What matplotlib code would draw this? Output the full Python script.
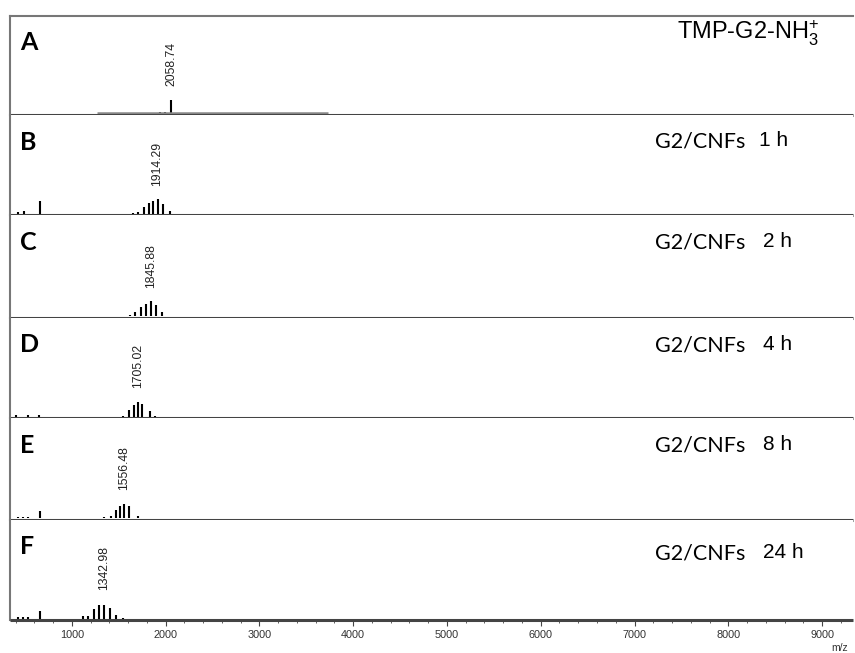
import numpy as np
import matplotlib
matplotlib.use('Agg')
from matplotlib import pyplot as plt
from matplotlib.ticker import MultipleLocator
import matplotlib.transforms as mtransforms

plt.rcParams['font.family'] = 'Liberation Sans'
plt.rcParams['mathtext.default'] = 'regular'

# panel letters, annotations and labelled peak of each spectrum
letters = ['A', 'B', 'C', 'D', 'E', 'F']
times = [None, '1 h', '2 h', '4 h', '8 h', '24 h']
labelled = [2058.74, 1914.29, 1845.88, 1705.02, 1556.48, 1342.98]

# peak positions (m/z) and heights (approx. pixels)
mz_A = [1940, 1990, 2058.74]
h_A = [1.5, 1.5, 14]
mz_B = [430, 492, 662, 1647, 1701, 1765, 1818, 1861, 1914.29, 1967, 2042]
h_B = [1.5, 3, 13, 1, 2, 7, 11, 13, 15, 10, 3]
mz_C = [1622, 1675, 1739, 1793, 1845.88, 1899, 1963]
h_C = [1, 4, 9, 12, 15, 11, 4]
mz_D = [405, 535, 651, 1545, 1609, 1662, 1705.02, 1748, 1833, 1886]
h_D = [1.5, 1.5, 1.5, 1, 7, 12, 15, 13, 6, 1]
mz_E = [428, 481, 535, 662, 1343, 1417, 1471, 1514, 1556.48, 1609, 1705]
h_E = [1, 1, 1, 7, 1, 2, 8, 12, 14, 12, 2]
mz_F = [428, 481, 535, 662, 1119, 1172, 1236, 1290, 1342.98, 1410, 1475, 1545]
h_F = [1.5, 1.5, 1.5, 8, 3, 3, 10, 14, 14, 11, 4, 1]

spectra = [(mz_A, h_A), (mz_B, h_B), (mz_C, h_C),
           (mz_D, h_D), (mz_E, h_E), (mz_F, h_F)]

# gray acquisition range drawn in spectrum A
range_A = (1270, 3730)

fig = plt.figure(figsize=(8.55, 6.53), dpi=100)
gs = fig.add_gridspec(6, 1, left=10/855, right=853/855, top=1-16/653,
                      bottom=1-620/653, hspace=0,
                      height_ratios=[99, 100, 103, 100, 102, 100])

for i, (mz, h) in enumerate(spectra):
    ax = fig.add_subplot(gs[i])
    ax.set_xlim(340, 9330)
    ax.set_ylim(0, 100)
    ax.vlines(mz, 1.5, np.array(h) + 1.5, color='black', lw=1.5)
    if i == 0:
        ax.hlines(2, range_A[0], range_A[1], color='#888888', lw=1.8)

    trans = mtransforms.blended_transform_factory(ax.transData, ax.transAxes)
    ax.text(labelled[i], 0.295, '%.2f' % labelled[i], rotation=90,
            ha='center', va='bottom', fontsize=8.8, color='#222222',
            transform=trans)

    ax.text(0.012, 0.73, letters[i], transform=ax.transAxes, ha='left',
            va='center', fontsize=18, fontweight='bold', family='Lato')

    if i == 0:
        ax.text(0.791, 0.83, r'TMP-G2-NH$_{3}^{+}$', transform=ax.transAxes,
                ha='left', va='center', fontsize=17)
    else:
        ty = 0.67 if i == 5 else 0.73
        ax.text(0.765, ty, 'G2/CNFs', transform=ax.transAxes, ha='left',
                va='center', fontsize=15.5, family='Lato')
        ax.text(0.888 if i == 1 else 0.893, ty + 0.01, times[i],
                transform=ax.transAxes, ha='left', va='center', fontsize=15)

    for s in ['top', 'right']:
        ax.spines[s].set_visible(False)
    if i == 0:
        ax.spines['top'].set_visible(True)
        ax.spines['top'].set_color('#777777')
        ax.spines['top'].set_linewidth(1.5)
    ax.spines['left'].set_color('#777777')
    ax.spines['left'].set_linewidth(1.5)
    ax.spines['bottom'].set_color('#444444')
    ax.spines['bottom'].set_linewidth(2.2)
    ax.spines['bottom'].set_capstyle('butt')
    ax.set_yticks([])

    if i < 5:
        ax.set_xticks([])
    else:
        ax.xaxis.set_major_locator(MultipleLocator(1000))
        ax.xaxis.set_minor_locator(MultipleLocator(200))
        ax.tick_params(axis='x', which='major', direction='out', length=4,
                       width=0.8, labelsize=7.8, pad=3, colors='#444444')
        ax.tick_params(axis='x', which='minor', direction='out', length=2,
                       width=0.6, colors='#444444')
        for lab in ax.get_xticklabels():
            lab.set_color('#333333')

fig.text(840/855, 1-648/653, 'm/z', fontsize=7.5, ha='center', va='center',
         color='#333333')

plt.savefig('out.png', dpi=100)
